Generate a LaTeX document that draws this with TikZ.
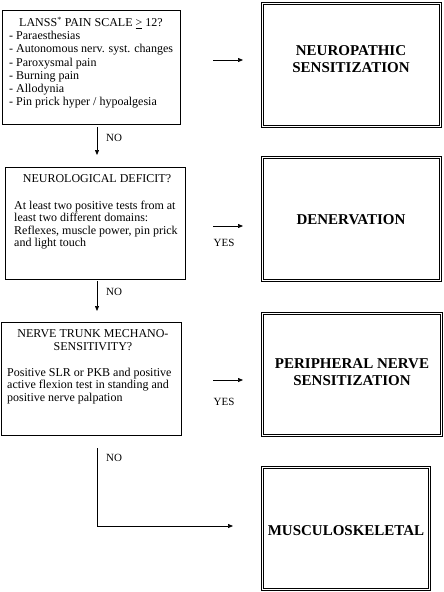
\documentclass[tikz,border=0pt]{standalone}
\usepackage{fontspec}
\setmainfont{Liberation Serif}
\usetikzlibrary{arrows.meta}
\begin{document}
\begin{tikzpicture}[x=1pt,y=-1pt,
  qbox/.style={draw,line width=0.9pt,inner sep=0pt,outer sep=0pt},
  rbox/.style={draw,double,double distance=1.4pt,line width=0.7pt,inner sep=0pt,outer sep=0pt},
  body/.style={font=\fontsize{12}{12.5}\selectfont,inner sep=0pt,align=left,anchor=base west},
  title/.style={font=\fontsize{12}{12.7}\selectfont,inner sep=0pt,align=center,anchor=base},
  big/.style={font=\bfseries\fontsize{15}{16.5}\selectfont,align=center,inner sep=0pt},
  lbl/.style={font=\fontsize{11}{12}\selectfont,inner sep=0pt},
  arr/.style={line width=0.7pt,-{Triangle[length=5pt,width=4pt]}},
  ln/.style={line width=0.7pt}
]
\useasboundingbox (0,0) rectangle (444,592);

% question boxes (multi-line text nodes: base = baseline of last line)
\node[qbox,minimum width=178pt,minimum height=114pt] (b1) at (91,67) {};
\node[title] (t1) at (91,26.7) {LANSS\textsuperscript{*} PAIN SCALE \underline{>} 12?};
\node[body,font=\fontsize{12}{13.2}\selectfont] (l1) at (9,105.7) {- Paraesthesias\\- Autonomous nerv. syst. changes\\- Paroxysmal pain\\- Burning pain\\- Allodynia\\- Pin prick hyper / hypoalgesia};

\node[qbox,minimum width=180pt,minimum height=112pt] (b2) at (95,223) {};
\node[title] (t2) at (97,182.5) {NEUROLOGICAL DEFICIT?};
\node[body] (l2) at (14,246.7) {At least two positive tests from at\\least two different domains:\\Reflexes, muscle power, pin prick\\and light touch};

\node[qbox,minimum width=180pt,minimum height=113pt] (b3) at (91,378.5) {};
\node[title] (t3) at (93,350) {NERVE TRUNK MECHANO-\\SENSITIVITY?};
\node[body] (l3) at (7,401) {Positive SLR or PKB and positive\\active flexion test in standing and\\positive nerve palpation};

% result boxes
\node[rbox,minimum width=178pt,minimum height=123pt] (n1) at (351.5,65) {};
\node[big] (n1t) at (351,59) {NEUROPATHIC\\SENSITIZATION};
\node[rbox,minimum width=178pt,minimum height=123pt] (n2) at (351.5,219) {};
\node[big] (n2t) at (351,220) {DENERVATION};
\node[rbox,minimum width=179pt,minimum height=122pt] (n3) at (352,374.5) {};
\node[big] (n3t) at (352,372) {PERIPHERAL NERVE\\SENSITIZATION};
\node[rbox,minimum width=167pt,minimum height=122pt] (n4) at (346,528.5) {};
\node[big] (n4t) at (346,531) {MUSCULOSKELETAL};

% connectors
\coordinate (a1s) at (213,60);  \coordinate (a1e) at (243,60);
\coordinate (a2s) at (213,226); \coordinate (a2e) at (243,226);
\coordinate (a3s) at (213,380); \coordinate (a3e) at (243,380);
\draw[arr] (a1s) -- (a1e);
\draw[arr] (a2s) -- (a2e);
\draw[arr] (a3s) -- (a3e);
\node[lbl] (y2) at (224,243) {YES};
\node[lbl] (y3) at (224,402) {YES};

\coordinate (d1s) at (97,127); \coordinate (d1e) at (97,155);
\coordinate (d2s) at (97,281); \coordinate (d2e) at (97,311);
\coordinate (d3s) at (97,448); \coordinate (d3c) at (97,526); \coordinate (d3e) at (233,526);
\draw[arr] (d1s) -- (d1e);
\draw[arr] (d2s) -- (d2e);
\draw[arr] (d3s) -- (d3c) -- (d3e);
\node[lbl,anchor=west] (no1) at (106,138) {NO};
\node[lbl,anchor=west] (no2) at (106,292) {NO};
\node[lbl,anchor=west] (no3) at (106,458) {NO};
\end{tikzpicture}
\end{document}
